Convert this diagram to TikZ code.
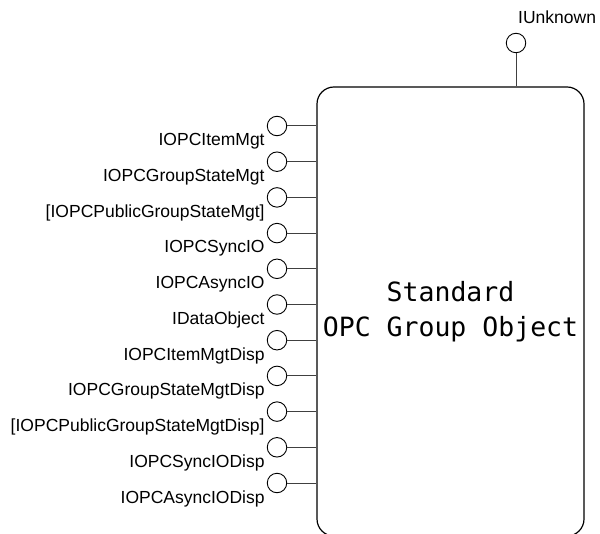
\documentclass[tikz,border=0pt]{standalone}
\usepackage{fontspec}
\setmainfont{Liberation Sans}
\newfontfamily\boxfont{DejaVu Sans Mono}
\usetikzlibrary{positioning, calc}

\begin{document}
\begin{tikzpicture}[
    x=1bp, y=-1bp, % pixel grid, y downwards
    obj/.style={draw, line width=1.2bp, rounded corners=17bp, align=center,
        minimum width=267bp, minimum height=449bp, inner sep=0pt,
        font=\boxfont\fontsize{26.5bp}{35bp}\selectfont}, % object box
    iface/.style={draw, circle, line width=0.9bp, minimum size=19.5bp, inner sep=0pt}, % interface lollipop
    lbl/.style={inner sep=0pt, font=\fontsize{17.5bp}{20bp}\selectfont}, % interface name
    conn/.style={line width=1bp, black!75} % stick to the box
]
    \useasboundingbox (0,0) rectangle (600,534);

    % the group object (bottom edge just at the page border)
    \node[obj] (grp) at (450.5,311.5) {\raisebox{-3bp}{\parbox{260bp}{\centering Standard\\OPC Group Object}}};

    % IUnknown on top
    \node[iface] (iu) at (516,43) {};
    \node[lbl, above right=9bp and 2bp of iu.north] (iulbl) {IUnknown};
    \draw[conn] (iu) -- (iu |- grp.north);

    % interfaces on the left side
    \foreach \lab [count=\i] in {IOPCItemMgt, IOPCGroupStateMgt, {[IOPCPublicGroupStateMgt]},
        IOPCSyncIO, IOPCAsyncIO, IDataObject, IOPCItemMgtDisp, IOPCGroupStateMgtDisp,
        {[IOPCPublicGroupStateMgtDisp]}, IOPCSyncIODisp, IOPCAsyncIODisp} {
        \pgfmathsetmacro\yy{126+35.7*(\i-1)}
        \node[iface] (c\i) at (277,\yy) {};
        \node[lbl, below left=0bp and 5bp of c\i.south west] (l\i) {\lab};
        \draw[conn] (c\i) -- (c\i -| grp.west);
    }
\end{tikzpicture}
\end{document}
